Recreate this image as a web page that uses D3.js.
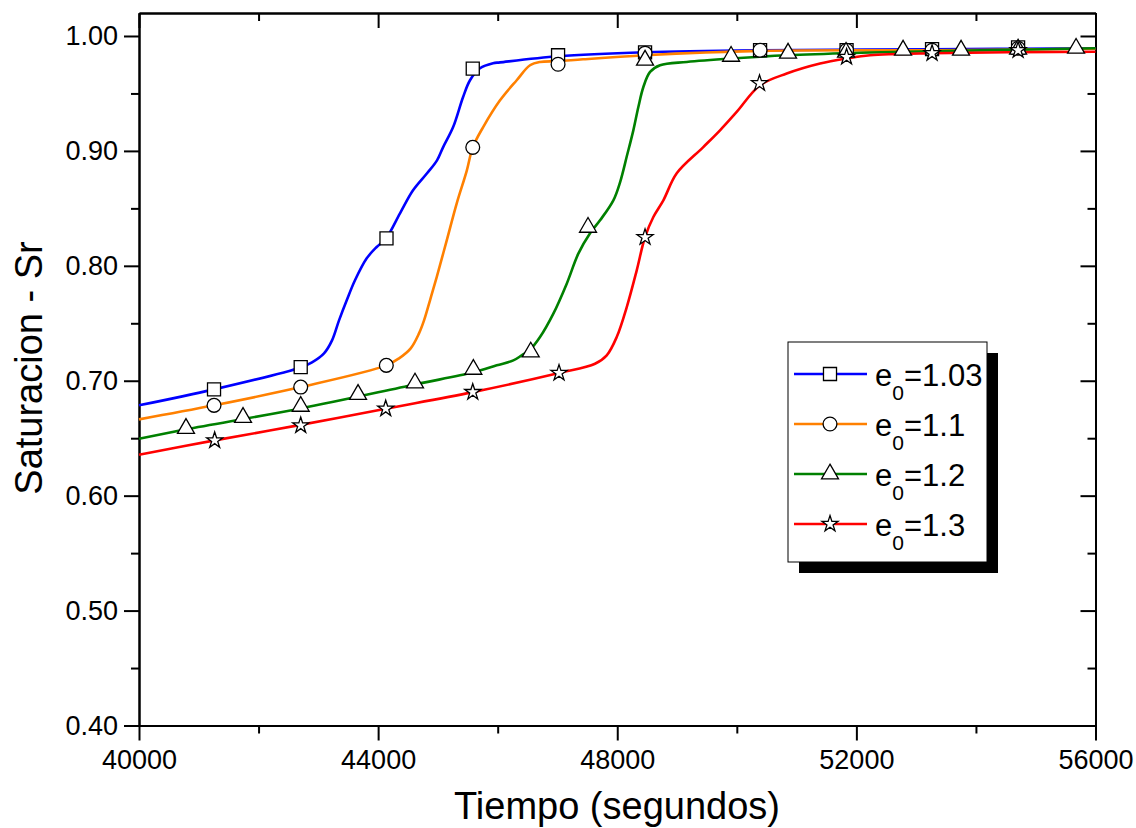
<!DOCTYPE html>
<html lang="es">
<head>
<meta charset="UTF-8" />
<title>Saturacion vs Tiempo</title>
<script src="https://d3js.org/d3.v7.min.js"></script>
<style>
  body { margin: 0; background: #fff; }
  svg { display: block; font-family: "Liberation Sans", Arial, sans-serif; }
  .axis path, .axis line { stroke: #000; stroke-width: 2; }
  .axis text { fill: #000; font-size: 27px; font-family: "Liberation Sans", Arial, sans-serif; }
</style>
</head>
<body>
<svg id="chart" width="1136" height="828"></svg>
<script>
// ---- data ----
const xTicks = [40000, 44000, 48000, 52000, 56000];
const xMinor = [42000, 46000, 50000, 54000];
const yTicks = [0.40, 0.50, 0.60, 0.70, 0.80, 0.90, 1.00];
const yMinor = [0.45, 0.55, 0.65, 0.75, 0.85, 0.95];
const legendLabels = ["1.03", "1.1", "1.2", "1.3"];

// smooth curves [tiempo, saturacion]
const line103 = [[40000,0.6786],[41255,0.6925],[42705,0.7116],[42894,0.7160],[43095,0.7238],[43229,0.7351],
  [43346,0.7525],[43475,0.7700],[43613,0.7874],[43809,0.8065],[43976,0.8164],[44132,0.8239],[44366,0.8457],
  [44584,0.8657],[44818,0.8805],[44985,0.8918],[45086,0.9031],[45253,0.9205],[45420,0.9467],[45537,0.9615],
  [45704,0.9719],[45922,0.9763],[46039,0.9770],[47010,0.9823],[48465,0.9858],[50389,0.9876],[53266,0.9885],[56000,0.9893]];
const line11 = [[40000,0.6664],[41255,0.6786],[42705,0.6945],[44137,0.7134],[44350,0.7195],[44545,0.7282],
  [44684,0.7412],[44768,0.7525],[44868,0.7700],[44980,0.7902],[45148,0.8222],[45315,0.8544],[45482,0.8827],
  [45583,0.9031],[45755,0.9205],[46039,0.9440],[46318,0.9615],[46541,0.9745],[46708,0.9774],[47010,0.9780],
  [47428,0.9797],[48465,0.9832],[50389,0.9870],[53266,0.9876],[56000,0.9889]];
const line12 = [[40000,0.6496],[40786,0.6577],[42705,0.6759],[44617,0.6968],[45593,0.7073],[45984,0.7134],
  [46262,0.7177],[46402,0.7221],[46541,0.7270],[46708,0.7380],[46931,0.7584],[47155,0.7845],[47349,0.8106],
  [47545,0.8283],[47712,0.8396],[47935,0.8570],[48047,0.8727],[48164,0.8962],[48269,0.9179],[48353,0.9382],
  [48437,0.9556],[48549,0.9687],[48716,0.9745],[49163,0.9774],[49906,0.9804],[50835,0.9832],[51944,0.9852],
  [53266,0.9867],[56000,0.9893]];
const line13 = [[40000,0.6356],[41266,0.6481],[42705,0.6616],[44127,0.6757],[45583,0.6901],[47026,0.7067],
  [47628,0.7148],[47824,0.7221],[47991,0.7380],[48159,0.7641],[48326,0.7961],[48465,0.8251],[48604,0.8425],
  [48771,0.8570],[48995,0.8805],[49435,0.9031],[49719,0.9179],[49998,0.9339],[50389,0.9571],[50835,0.9673],
  [51393,0.9760],[51839,0.9804],[52229,0.9832],[53266,0.9850],[56000,0.9863]];

// marker points
const marks103 = [[41255,0.6925],[42705,0.7119],[44140,0.8239],[45583,0.9716],[47010,0.9832],[48465,0.9858],
  [50389,0.9876],[51836,0.9876],[53266,0.9885],[54705,0.9900]];
const marks11 = [[41255,0.6786],[42705,0.6945],[44137,0.7134],[45583,0.9031],[47010,0.9754],[48465,0.9850],
  [50389,0.9876],[51836,0.9876],[53266,0.9876],[54705,0.9893]];
const marks12 = [[40786,0.6585],[41740,0.6681],[42705,0.6777],[43664,0.6881],[44617,0.6980],[45593,0.7099],
  [46553,0.7250],[47511,0.8335],[48465,0.9789],[49904,0.9823],[50857,0.9850],[51827,0.9858],[52781,0.9876],
  [53751,0.9876],[54705,0.9885],[55675,0.9893]];
const marks13 = [[41266,0.6481],[42705,0.6611],[44127,0.6757],[45583,0.6901],[47026,0.7067],[48465,0.8248],
  [50380,0.9588],[51836,0.9817],[53266,0.9850],[54705,0.9876]];

// ---- drawing ----
const series = [
  { label: legendLabels[0], line: line103, marks: marks103, color: "#0000ff", symbol: d3.symbolSquare, size: 170 },
  { label: legendLabels[1], line: line11,  marks: marks11,  color: "#ff8000", symbol: d3.symbolCircle, size: 150 },
  { label: legendLabels[2], line: line12,  marks: marks12,  color: "#008000", symbol: d3.symbolTriangle, size: 125 },
  { label: legendLabels[3], line: line13,  marks: marks13,  color: "#ff0000", symbol: d3.symbolStar, size: 80 }
];

const plotL = 139, plotR = 1095.5, plotT = 13, plotB = 725.5;
const svg = d3.select("#chart");
const x = d3.scaleLinear().domain([40000, 56000]).range([plotL, plotR]);
const y = d3.scaleLinear().domain([0.40, 1.02]).range([plotB, plotT]);

// minor ticks
svg.append("g").attr("class", "axis").attr("transform", "translate(0," + plotB + ")")
  .call(d3.axisBottom(x).tickValues(xMinor).tickSize(8).tickSizeOuter(0).tickFormat(""));
svg.append("g").attr("class", "axis").attr("transform", "translate(0," + plotT + ")")
  .call(d3.axisBottom(x).tickValues(xMinor).tickSize(8).tickSizeOuter(0).tickFormat(""));
svg.append("g").attr("class", "axis").attr("transform", "translate(" + plotL + ",0)")
  .call(d3.axisLeft(y).tickValues(yMinor).tickSize(8).tickSizeOuter(0).tickFormat(""));
svg.append("g").attr("class", "axis").attr("transform", "translate(" + plotR + ",0)")
  .call(d3.axisLeft(y).tickValues(yMinor).tickSize(8).tickSizeOuter(0).tickFormat(""));

// major ticks
svg.append("g").attr("class", "axis").attr("transform", "translate(0," + plotB + ")")
  .call(d3.axisBottom(x).tickValues(xTicks).tickSize(15).tickSizeOuter(0).tickPadding(9).tickFormat(d3.format("d")));
svg.append("g").attr("class", "axis").attr("transform", "translate(0," + plotT + ")")
  .call(d3.axisBottom(x).tickValues(xTicks).tickSize(15).tickSizeOuter(0).tickFormat(""));
svg.append("g").attr("class", "axis").attr("transform", "translate(" + plotL + ",0)")
  .call(d3.axisLeft(y).tickValues(yTicks).tickSize(15).tickSizeOuter(0).tickPadding(6).tickFormat(d3.format(".2f")));
svg.append("g").attr("class", "axis").attr("transform", "translate(" + plotR + ",0)")
  .call(d3.axisLeft(y).tickValues(yTicks).tickSize(15).tickSizeOuter(0).tickFormat(""));

// axis titles
svg.append("text")
  .attr("transform", "translate(42,368) rotate(-90)")
  .attr("text-anchor", "middle")
  .style("font-size", "38px")
  .text("Saturacion - Sr");
svg.append("text")
  .attr("x", 617).attr("y", 819)
  .attr("text-anchor", "middle")
  .style("font-size", "38px")
  .text("Tiempo (segundos)");

// curves + markers
const line = d3.line().curve(d3.curveCatmullRom.alpha(0.5)).x(d => x(d[0])).y(d => y(d[1]));
const plot = svg.append("g");
series.forEach(s => {
  plot.append("path").datum(s.line)
    .attr("fill", "none").attr("stroke", s.color).attr("stroke-width", 2.6)
    .attr("d", line);
});
series.forEach(s => {
  plot.selectAll(null).data(s.marks).join("path")
    .attr("transform", d => "translate(" + x(d[0]) + "," + y(d[1]) + ")")
    .attr("d", d3.symbol().type(s.symbol).size(s.size))
    .attr("fill", "#fff").attr("stroke", "#000").attr("stroke-width", 1.3);
});

// legend
const lg = svg.append("g");
lg.append("rect").attr("x", 799).attr("y", 353).attr("width", 199).attr("height", 220).attr("fill", "#000");
lg.append("rect").attr("x", 788).attr("y", 342).attr("width", 199).attr("height", 220)
  .attr("fill", "#fff").attr("stroke", "#000").attr("stroke-width", 1);
series.forEach((s, i) => {
  const ry = 374 + i * 50;
  lg.append("line").attr("x1", 794).attr("x2", 867).attr("y1", ry).attr("y2", ry)
    .attr("stroke", s.color).attr("stroke-width", 2.6);
  lg.append("path").attr("transform", "translate(830," + ry + ")")
    .attr("d", d3.symbol().type(s.symbol).size(s.size))
    .attr("fill", "#fff").attr("stroke", "#000").attr("stroke-width", 1.3);
  const t = lg.append("text").attr("x", 875).attr("y", ry + 12).style("font-size", "31px");
  t.append("tspan").text("e");
  t.append("tspan").attr("dy", 14).style("font-size", "21px").text("0");
  t.append("tspan").attr("dy", -14).text("=" + s.label);
});
</script>
</body>
</html>
